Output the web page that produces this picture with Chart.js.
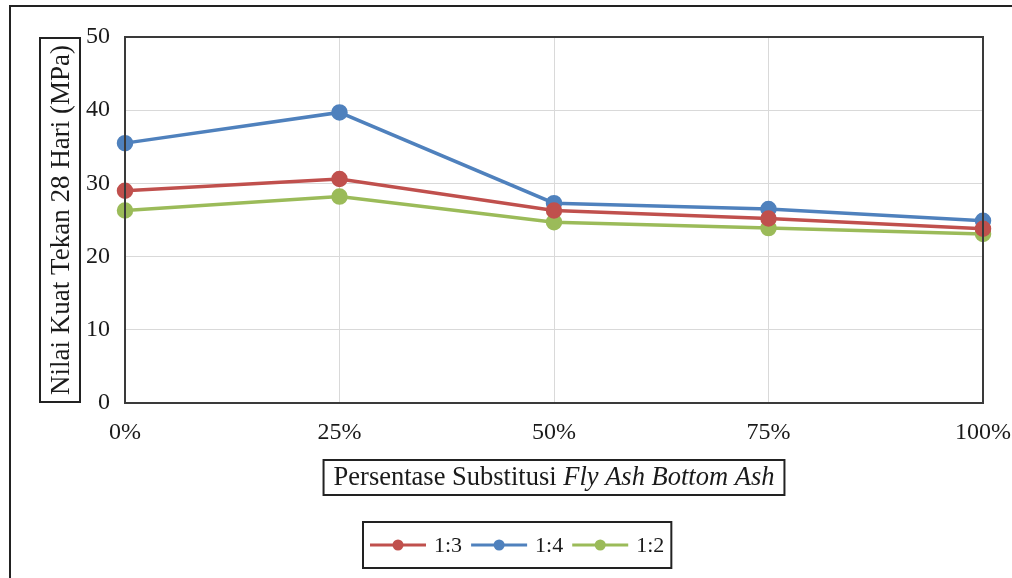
<!DOCTYPE html>
<html>
<head>
<meta charset="utf-8">
<script src="https://cdn.jsdelivr.net/npm/chart.js@4/dist/chart.umd.min.js"></script>
<style>
    html, body { margin: 0; padding: 0; background: #ffffff; }
    #wrap { width: 1012px; height: 578px; position: relative; }
</style>
</head>
<body>
<div id="wrap"><canvas id="kuatTekanChart" width="1012" height="578"></canvas></div>
<script>
// Persentase substitusi (sumbu x)
var kategori = ['0%', '25%', '50%', '75%', '100%'];

// Nilai kuat tekan 28 hari (MPa) per perbandingan campuran
var nilai13 = [29.0, 30.6, 26.3, 25.2, 23.8];
var nilai14 = [35.5, 39.7, 27.3, 26.5, 24.9];
var nilai12 = [26.3, 28.2, 24.7, 23.9, 23.1];

var labelSeri = ['1:3', '1:4', '1:2'];
var warnaSeri = ['#C0504D', '#4F81BD', '#9BBB59'];

var judulY = 'Nilai Kuat Tekan 28 Hari (MPa)';
var judulXBiasa = 'Persentase Substitusi ';
var judulXMiring = 'Fly Ash Bottom Ash';

var fontSerif = '"Liberation Serif", "Times New Roman", serif';

// plugin untuk bingkai, judul sumbu dan legenda berkotak
var dekorasiPlugin = {
    id: 'dekorasi',
    afterDraw: function (chart) {
        var ctx = chart.ctx;
        var area = chart.chartArea;
        ctx.save();

        // bingkai luar
        ctx.strokeStyle = '#222222';
        ctx.lineWidth = 2;
        ctx.beginPath();
        ctx.moveTo(10, 578);
        ctx.lineTo(10, 6);
        ctx.lineTo(1012, 6);
        ctx.stroke();

        // bingkai area plot
        ctx.strokeStyle = '#3a3a3a';
        ctx.lineWidth = 2;
        ctx.strokeRect(area.left, area.top, area.right - area.left, area.bottom - area.top);

        // judul sumbu y (berkotak)
        ctx.strokeStyle = '#222222';
        ctx.lineWidth = 2;
        ctx.strokeRect(40, 38, 40, 364);
        ctx.save();
        ctx.translate(61, 220);
        ctx.rotate(-Math.PI / 2);
        ctx.fillStyle = '#1a1a1a';
        ctx.font = '27px ' + fontSerif;
        ctx.textAlign = 'center';
        ctx.textBaseline = 'middle';
        ctx.fillText(judulY, 0, 1);
        ctx.restore();

        // judul sumbu x (sebagian miring)
        ctx.font = '26.5px ' + fontSerif;
        var w1 = ctx.measureText(judulXBiasa).width;
        ctx.font = 'italic 26.5px ' + fontSerif;
        var w2 = ctx.measureText(judulXMiring).width;
        var cx = (area.left + area.right) / 2;
        var total = w1 + w2;
        ctx.strokeStyle = '#222222';
        ctx.lineWidth = 2;
        ctx.strokeRect(cx - total / 2 - 10, 460, total + 20, 35);
        ctx.fillStyle = '#1a1a1a';
        ctx.textBaseline = 'middle';
        ctx.textAlign = 'left';
        ctx.font = '26.5px ' + fontSerif;
        ctx.fillText(judulXBiasa, cx - total / 2, 478);
        ctx.font = 'italic 26.5px ' + fontSerif;
        ctx.fillText(judulXMiring, cx - total / 2 + w1, 478);

        // legenda berkotak
        ctx.font = '22px ' + fontSerif;
        var lx = 370;
        var ly = 545;
        var awal = lx;
        var posisi = [];
        chart.data.datasets.forEach(function (ds) {
            posisi.push(lx);
            lx += 64 + ctx.measureText(ds.label).width + 9;
        });
        ctx.strokeStyle = '#222222';
        ctx.lineWidth = 2;
        ctx.strokeRect(awal - 7, 522, (lx - 9) - awal + 14, 46);
        chart.data.datasets.forEach(function (ds, i) {
            var x0 = posisi[i];
            ctx.strokeStyle = ds.borderColor;
            ctx.lineWidth = 3;
            ctx.beginPath();
            ctx.moveTo(x0, ly);
            ctx.lineTo(x0 + 56, ly);
            ctx.stroke();
            ctx.fillStyle = ds.borderColor;
            ctx.beginPath();
            ctx.arc(x0 + 28, ly, 5.5, 0, Math.PI * 2);
            ctx.fill();
            ctx.fillStyle = '#1a1a1a';
            ctx.textAlign = 'left';
            ctx.textBaseline = 'middle';
            ctx.fillText(ds.label, x0 + 64, ly + 1);
        });

        ctx.restore();
    }
};

document.addEventListener('DOMContentLoaded', function () {
    var ctx = document.getElementById('kuatTekanChart').getContext('2d');
    var semuaNilai = [nilai13, nilai14, nilai12];

    var datasets = semuaNilai.map(function (data, i) {
        return {
            label: labelSeri[i],
            data: data,
            borderColor: warnaSeri[i],
            backgroundColor: warnaSeri[i],
            pointBackgroundColor: warnaSeri[i],
            pointBorderColor: warnaSeri[i],
            borderWidth: 3.5,
            pointRadius: 6.5,
            pointHoverRadius: 6.5,
            tension: 0,
            fill: false
        };
    });

    new Chart(ctx, {
        type: 'line',
        data: { labels: kategori, datasets: datasets },
        options: {
            responsive: false,
            animation: false,
            layout: { padding: { top: 37, right: 29, bottom: 0, left: 0 } },
            plugins: {
                legend: { display: false },
                tooltip: { enabled: false }
            },
            scales: {
                x: {
                    offset: false,
                    afterFit: function (scale) {
                        scale.height = 175;
                        scale.paddingLeft = 0;
                        scale.paddingRight = 0;
                    },
                    grid: { color: '#d9d9d9', lineWidth: 1, drawTicks: false },
                    border: { display: false },
                    ticks: {
                        padding: 15,
                        color: '#1a1a1a',
                        font: { family: fontSerif, size: 24 }
                    }
                },
                y: {
                    min: 0,
                    max: 50,
                    afterFit: function (scale) {
                        scale.width = 125;
                        scale.paddingTop = 0;
                        scale.paddingBottom = 0;
                    },
                    grid: { color: '#d9d9d9', lineWidth: 1, drawTicks: false },
                    border: { display: false },
                    ticks: {
                        stepSize: 10,
                        padding: 15,
                        color: '#1a1a1a',
                        font: { family: fontSerif, size: 24 }
                    }
                }
            }
        },
        plugins: [dekorasiPlugin]
    });
});
</script>
</body>
</html>
